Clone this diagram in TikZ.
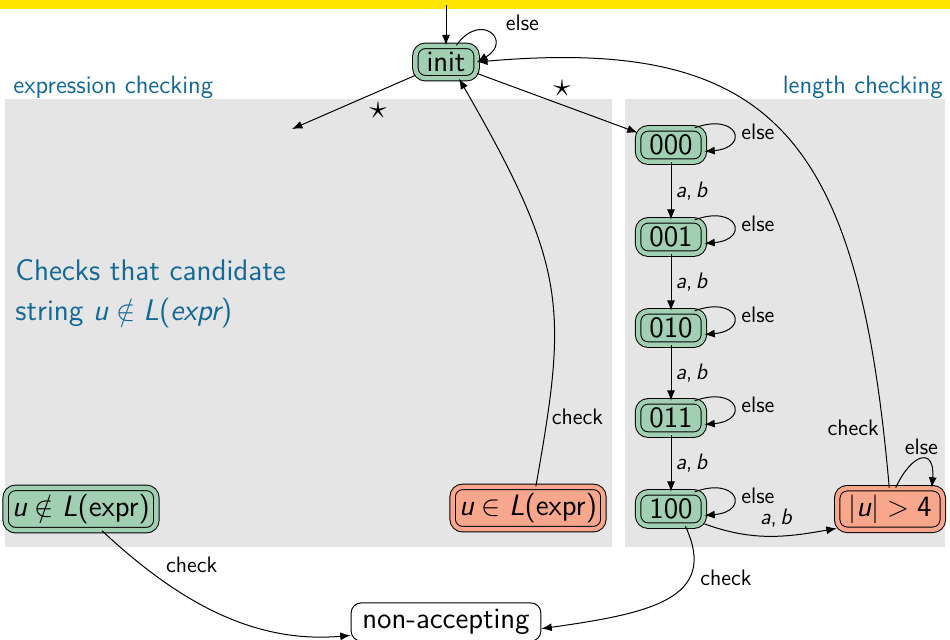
\documentclass[tikz,border=0pt]{standalone}
\usetikzlibrary{arrows.meta,shadows}

\definecolor{accfill}{RGB}{160,207,178}
\definecolor{rejfill}{RGB}{248,167,140}
\definecolor{panelgray}{RGB}{229,229,229}
\definecolor{headblue}{RGB}{18,104,150}
\definecolor{topbar}{RGB}{255,229,0}

% slanted sans letters used as variables
\newcommand{\sv}[1]{{\sffamily\itshape #1}}

\tikzset{
  box/.style={draw, rounded corners=5pt, inner xsep=5.6pt, inner ysep=3.2pt, line width=0.5pt},
  dblbox/.style={box, double distance=2.2pt,
    drop shadow={shadow xshift=0.6pt, shadow yshift=-0.6pt, opacity=0.4}},
  accbox/.style={dblbox, fill=accfill, double=accfill},
  rejbox/.style={dblbox, fill=rejfill, double=rejfill},
  narrow/.style={inner xsep=3.2pt},
  plainbox/.style={box, fill=white},
  trans/.style={-{Latex[length=5.2pt,width=4pt]}, line width=0.5pt},
  lab/.style={font=\sffamily\fontsize{11.2}{13}\selectfont, inner sep=2pt},
  starlab/.style={font=\fontsize{16}{18}\selectfont, inner sep=1pt},
  headtext/.style={font=\sffamily\fontsize{12.6}{15}\selectfont, text=headblue, inner sep=0pt},
  blurb/.style={font=\sffamily\fontsize{14.9}{18}\selectfont, text=headblue, inner sep=0pt},
}

\begin{document}
\begin{tikzpicture}[x=0.5pt, y=-0.5pt,
  every node/.style={font=\sffamily\fontsize{14.75}{17}\selectfont}]
  \useasboundingbox (0,0) rectangle (950,639);

  % frame bar and the two panels
  \fill[topbar] (0,0) rectangle (950,8.7);
  \fill[panelgray] (5,99) rectangle (612,547);
  \fill[panelgray] (625,99) rectangle (945,547);

  \node[headtext, anchor=base west] (hexpr) at (13,93) {expression checking};
  \node[headtext, anchor=base east] (hlen) at (943,93) {length checking};

  \node[blurb, anchor=base west] (blurbA) at (15,280) {Checks that candidate};
  \node[blurb, anchor=base west] (blurbB) at (15,320)
    {string $\mbox{\sv{u}}\notin\mbox{\sv{L}(\sv{expr})}$};

  % states
  \node[accbox] (init) at (446,62) {init};
  \node[accbox] (s000) at (671,145) {000};
  \node[accbox] (s001) at (671,237) {001};
  \node[accbox] (s010) at (671,328) {010};
  \node[accbox] (s011) at (671,418) {011};
  \node[accbox] (s100) at (671,509) {100};
  \node[rejbox] (big) at (890,509) {$|\mbox{\sv{u}}|>\mbox{4}$};
  \node[accbox, narrow] (notin) at (81,509) {$\mbox{\sv{u}}\notin\mbox{\sv{L}(expr)}$};
  \node[rejbox, narrow] (isin) at (528,508) {$\mbox{\sv{u}}\in\mbox{\sv{L}(expr)}$};
  \node[plainbox] (na) at (446,622) {non-accepting};

  \coordinate (entry) at (446,5);
  \coordinate (loose) at (292,129);

  % transitions
  \draw[trans] (entry) -- (init);
  \draw[trans] (init.58) to[out=55,in=30,distance=21pt]
    node[lab,above right,pos=0.5,xshift=6pt,yshift=-1pt]{else} (init.east);
  \draw[trans] (init) -- node[starlab,above,pos=0.53,yshift=3pt]{$\star$} (s000);
  \draw[trans] (init) -- node[starlab,below,pos=0.3,yshift=-4pt]{$\star$} (loose);

  \foreach \s in {s000,s001,s010,s011,s100}
    \draw[trans] (\s.36) to[out=20,in=5,distance=23pt]
      node[lab,right,pos=0.5,xshift=2pt]{else} (\s.-11);

  \draw[trans] (s000) -- node[lab,right]{\sv{a},\,\sv{b}} (s001);
  \draw[trans] (s001) -- node[lab,right]{\sv{a},\,\sv{b}} (s010);
  \draw[trans] (s010) -- node[lab,right]{\sv{a},\,\sv{b}} (s011);
  \draw[trans] (s011) -- node[lab,right]{\sv{a},\,\sv{b}} (s100);

  \draw[trans] (s100.-24) to[out=-20,in=190]
    node[lab,above,pos=0.55,yshift=2pt]{\sv{a},\,\sv{b}} (big.200);
  \draw[trans] (big.75) to[out=65,in=85,distance=20pt]
    node[lab,above,pos=0.5]{else} (big.27);

  \draw[trans] (big.92) to[out=95,in=5,out distance=175pt,in distance=150pt]
    node[lab,left,pos=0.06]{check} (init.east);
  \draw[trans] (isin.70) to[out=80,in=-60,out distance=90pt,in distance=110pt]
    node[lab,right,pos=0.145]{check} (init.-52);

  \draw[trans] (notin.-46) to[out=-43,in=185,distance=50pt]
    node[lab,above right,pos=0.25,xshift=2pt]{check} (na.188);
  \draw[trans] (s100.-50) to[out=-65,in=8,out distance=40pt,in distance=55pt]
    node[lab,right,pos=0.3,xshift=3pt]{check} (na.-4);
\end{tikzpicture}
\end{document}
